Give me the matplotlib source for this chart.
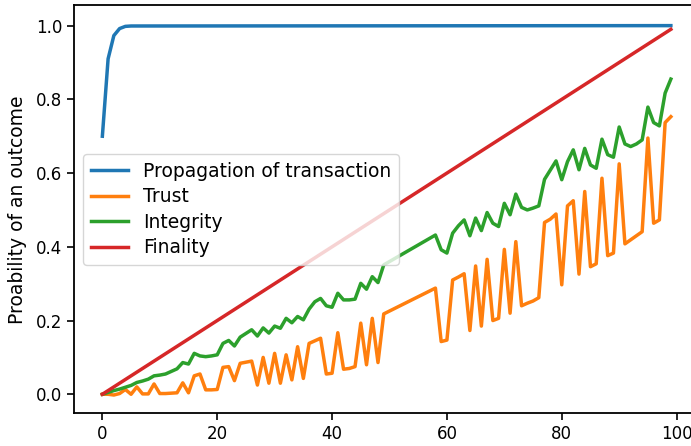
import numpy as np
import matplotlib
matplotlib.use("Agg")
import matplotlib.pyplot as plt

# run index (runs 50-57 are missing from the results)
runs = list(range(0, 50)) + list(range(58, 100))

trust = [
    0.0, 0.0, -0.002, 0.002, 0.013, 0.0, 0.02, 0.001, 0.001, 0.028,
    0.002, 0.002, 0.003, 0.004, 0.031, 0.004, 0.05, 0.055, 0.012, 0.012,
    0.013, 0.073, 0.075, 0.037, 0.084, 0.087, 0.09, 0.025, 0.10, 0.03,
    0.111, 0.03, 0.107, 0.039, 0.129, 0.043, 0.138, 0.145, 0.152, 0.055,
    0.057, 0.167, 0.068, 0.070, 0.075, 0.193, 0.080, 0.206, 0.086, 0.218,
    0.288, 0.143, 0.147, 0.31, 0.318, 0.327, 0.173, 0.348, 0.185, 0.366,
    0.2, 0.206, 0.393, 0.22, 0.414, 0.24, 0.247, 0.253, 0.262, 0.466,
    0.475, 0.489, 0.297, 0.511, 0.525, 0.326, 0.55, 0.346, 0.354, 0.586,
    0.376, 0.383, 0.625, 0.408, 0.419, 0.43, 0.441, 0.695, 0.464, 0.473,
    0.737, 0.753,
]

integrity = [
    0.0, 0.005, 0.01, 0.014, 0.019, 0.024, 0.032, 0.036, 0.041, 0.05,
    0.052, 0.055, 0.062, 0.069, 0.086, 0.082, 0.111, 0.104, 0.102, 0.104,
    0.107, 0.138, 0.146, 0.131, 0.155, 0.165, 0.175, 0.158, 0.18, 0.166,
    0.185, 0.179, 0.206, 0.194, 0.211, 0.202, 0.231, 0.251, 0.26, 0.24,
    0.236, 0.274, 0.256, 0.256, 0.258, 0.301, 0.285, 0.319, 0.303, 0.351,
    0.432, 0.392, 0.383, 0.437, 0.457, 0.473, 0.43, 0.478, 0.444, 0.493,
    0.464, 0.455, 0.518, 0.487, 0.543, 0.507, 0.5, 0.505, 0.511, 0.583,
    0.608, 0.633, 0.582, 0.631, 0.663, 0.609, 0.667, 0.622, 0.613, 0.692,
    0.65, 0.643, 0.725, 0.679, 0.672, 0.679, 0.69, 0.779, 0.737, 0.728,
    0.817, 0.855,
]

# propagation saturates after a handful of runs
prop_runs = [0, 1, 2, 3, 4, 5, 99]
propagation = [0.7, 0.91, 0.973, 0.992, 0.998, 0.999, 1.0]

# finality grows linearly
fin_runs = [0, 99]
finality = [0.0, 0.99]

plt.rcParams['font.size'] = 12

fig = plt.figure(figsize=(6.91, 4.46), dpi=100)
ax = fig.add_axes([0.107, 0.073, 0.905, 0.915])

lw = 2.5
ax.plot(prop_runs, propagation, color='tab:blue', lw=lw, label='Propagation of transaction')
ax.plot(runs, trust, color='tab:orange', lw=lw, label='Trust')
ax.plot(runs, integrity, color='tab:green', lw=lw, label='Integrity')
ax.plot(fin_runs, finality, color='tab:red', lw=lw, label='Finality')

ax.set_xlim(-4.95, 103.95)
ax.set_ylim(-0.052, 1.055)
ax.set_xticks([0, 20, 40, 60, 80, 100])
ax.set_yticks([0.0, 0.2, 0.4, 0.6, 0.8, 1.0])
ax.set_ylabel('Proability of an outcome', fontsize=13.5, labelpad=6.5)

for s in ax.spines.values():
    s.set_linewidth(1.3)
ax.tick_params(width=1.2, length=5)

ax.legend(loc='center left', fontsize=13.5, labelspacing=0.35,
          handlelength=2.0)

plt.savefig('out.png', dpi=100)
